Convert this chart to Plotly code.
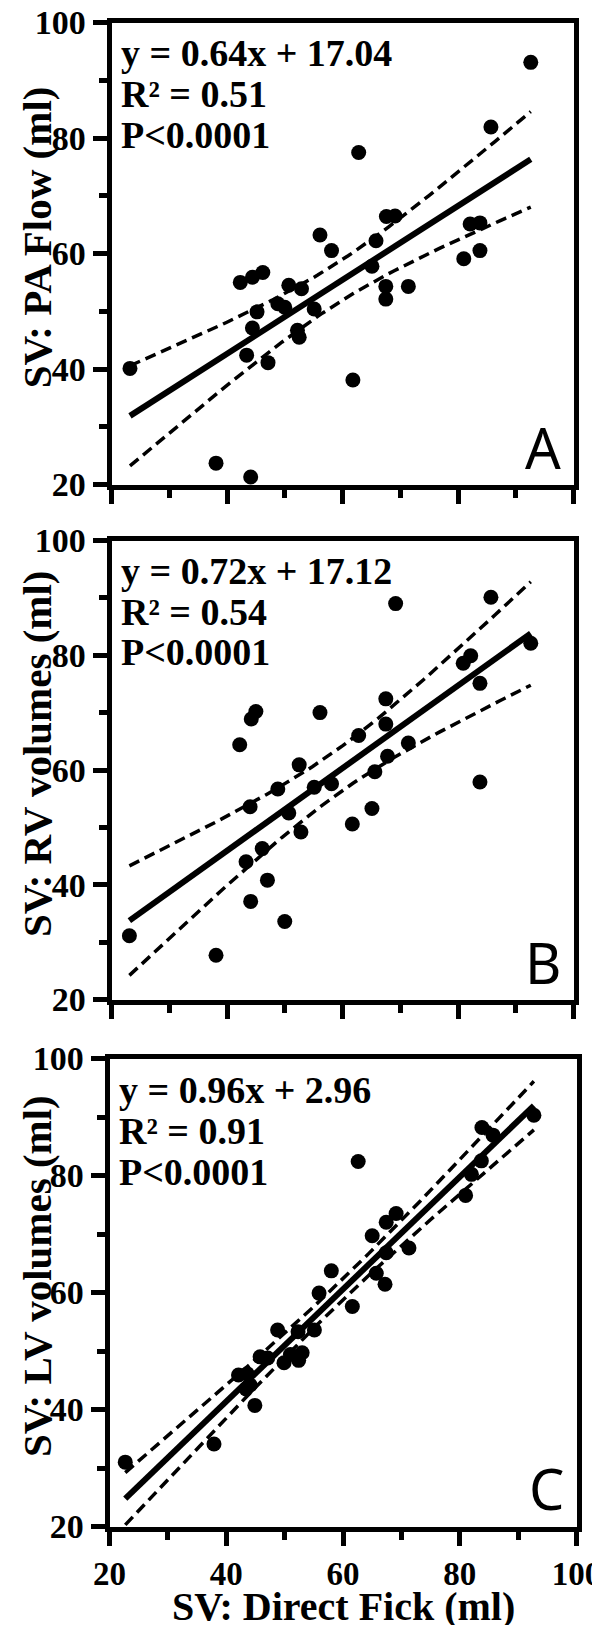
import numpy as np
import plotly.graph_objects as go

# ---------------- data ----------------
# Panel A: SV Direct Fick vs SV PA Flow
fick_a = [23.2, 38.1, 44.1, 42.3, 44.4, 46.2, 45.2, 44.4, 43.4, 47.1, 50.7, 52.9,
          48.8, 50.0, 52.2, 52.5, 55.1, 56.1, 58.1, 62.8, 61.8, 65.8, 65.1, 67.6,
          69.1, 67.5, 67.5, 71.4, 81.0, 82.1, 83.8, 83.8, 85.7, 92.6]
pa_flow = [40.1, 23.7, 21.3, 55.0, 55.9, 56.7, 49.9, 47.1, 42.4, 41.1, 54.5, 53.9,
           51.3, 50.7, 46.7, 45.5, 50.4, 63.2, 60.5, 77.5, 38.1, 62.2, 57.8, 66.4,
           66.5, 54.3, 52.1, 54.3, 59.1, 65.1, 65.3, 60.5, 81.9, 93.1]

# Panel B: SV Direct Fick vs SV RV volumes
fick_b = [23.1, 38.1, 42.2, 44.2, 45.0, 44.0, 43.3, 44.1, 46.1, 47.0, 48.8, 50.0,
          50.7, 52.5, 52.8, 55.1, 56.1, 58.1, 61.7, 62.8, 65.1, 65.6, 67.5, 67.5,
          67.8, 69.2, 71.4, 80.9, 82.2, 83.8, 83.8, 85.7, 92.6]
rv_vol = [31.1, 27.7, 64.4, 68.9, 70.2, 53.6, 44.0, 37.1, 46.3, 40.8, 56.7, 33.6,
          52.5, 60.9, 49.2, 57.0, 70.0, 57.6, 50.6, 66.0, 53.3, 59.7, 72.4, 68.0,
          62.4, 89.0, 64.7, 78.6, 79.9, 75.1, 57.9, 90.1, 82.1]

# Panel C: SV Direct Fick vs SV LV volumes
fick_c = [22.7, 37.9, 42.1, 43.6, 44.1, 43.4, 44.9, 45.8, 47.1, 48.8, 49.9, 51.0,
          52.4, 53.0, 52.3, 55.1, 55.9, 58.0, 61.6, 62.6, 65.0, 65.7, 67.2, 67.4,
          67.4, 69.1, 71.3, 81.0, 82.0, 83.7, 83.8, 85.7, 92.7]
lv_vol = [31.0, 34.1, 45.9, 46.1, 44.2, 43.5, 40.7, 49.0, 48.8, 53.6, 48.0, 49.4,
          48.4, 49.7, 53.3, 53.6, 59.9, 63.7, 57.6, 82.4, 69.7, 63.3, 61.4, 66.8,
          72.0, 73.5, 67.6, 76.6, 80.2, 82.5, 88.2, 86.9, 90.3]

# Reported regressions
slopes = [0.64, 0.72, 0.96]
intercepts = [17.04, 17.12, 2.96]
r2_labels = ["0.51", "0.54", "0.91"]
p_labels = ["P<0.0001", "P<0.0001", "P<0.0001"]
panel_letters = ["A", "B", "C"]
y_titles = ["SV: PA Flow (ml)", "SV: RV volumes (ml)", "SV: LV volumes (ml)"]
x_title = "SV: Direct Fick (ml)"
tick_vals = [20, 40, 60, 80, 100]
T95 = 2.04  # two-sided 95% t quantile, df ~ 31

datasets = [(fick_a, pa_flow), (fick_b, rv_vol), (fick_c, lv_vol)]

# ---------------- layout geometry (pixels) ----------------
W, H = 600, 1625
LW = 5
boxes = [(101, 568, 12, 479), (101, 568, 530, 994), (99, 571, 1048, 1521)]

SERIF = "Liberation Serif"
fig = go.Figure()

def band(x, y, m, b):
    x = np.asarray(x, float); y = np.asarray(y, float)
    n = len(x); xm = x.mean(); sxx = ((x - xm) ** 2).sum()
    s = np.sqrt(((y - (m * x + b)) ** 2).sum() / (n - 2))
    xs = np.linspace(x.min(), x.max(), 80)
    hw = T95 * s * np.sqrt(1.0 / n + (xs - xm) ** 2 / sxx)
    return xs, m * xs + b, hw

annotations = []
for i, ((xv, yv), m, b) in enumerate(zip(datasets, slopes, intercepts)):
    k = "" if i == 0 else str(i + 1)
    xa, ya = "x" + k, "y" + k
    xs, yfit, hw = band(xv, yv, m, b)
    dash = dict(color="black", width=3.5, dash="11px,6px")
    fig.add_trace(go.Scatter(x=xs, y=yfit + hw, mode="lines", line=dash, xaxis=xa, yaxis=ya, showlegend=False))
    fig.add_trace(go.Scatter(x=xs, y=yfit - hw, mode="lines", line=dash, xaxis=xa, yaxis=ya, showlegend=False))
    fig.add_trace(go.Scatter(x=[min(xv), max(xv)], y=[m * min(xv) + b, m * max(xv) + b], mode="lines",
                             line=dict(color="black", width=6), xaxis=xa, yaxis=ya, showlegend=False))
    fig.add_trace(go.Scatter(x=xv, y=yv, mode="markers", marker=dict(color="black", size=15, line=dict(width=0)),
                             xaxis=xa, yaxis=ya, showlegend=False, cliponaxis=False))

    x0, x1, y0, y1 = boxes[i]
    xdom = [(x0 + LW / 2) / W, (x1 - LW / 2) / W]
    ydom = [1 - (y1 - LW / 2) / H, 1 - (y0 + LW / 2) / H]
    axis_common = dict(range=[20, 100], showline=True, linecolor="black", linewidth=LW, mirror=True,
                       ticks="outside", ticklen=14, tickwidth=LW, tickcolor="black",
                       tickvals=tick_vals, showgrid=False, zeroline=False, automargin=False,
                       ticklabeloverflow="allow",
                       minor=dict(dtick=10, tick0=0, ticks="outside", ticklen=8, tickwidth=LW, tickcolor="black"),
                       tickfont=dict(family=SERIF, size=34, color="black", weight="bold"))
    fig.update_layout(**{
        "xaxis" + k: dict(axis_common, domain=xdom, anchor=ya, showticklabels=(i == 2),
                          tickfont=dict(family=SERIF, size=33, color="black", weight="bold")),
        "yaxis" + k: dict(axis_common, domain=ydom, anchor=xa, ticklabelstandoff=0),
    })

    eq = "y = %.2fx + %.2f" % (m, b)
    lines = [eq, "R² = " + r2_labels[i], p_labels[i]]
    for j, txt in enumerate(lines):
        annotations.append(dict(text=txt, xref=xa, yref=ya, x=21.3, y=[94.7, 87.6, 80.6][j],
                                xanchor="left", yanchor="middle", showarrow=False,
                                font=dict(family=SERIF, size=38, color="black", weight="bold")))
    annotations.append(dict(text=panel_letters[i], xref=xa + " domain", yref=ya + " domain", x=0.978, y=0.082,
                            xanchor="right", yanchor="middle", showarrow=False,
                            font=dict(family="Noto Sans", size=56, color="black")))
    annotations.append(dict(text=y_titles[i], xref="paper", yref=ya + " domain", x=29 / W, y=0.535,
                            xanchor="center", yanchor="middle", textangle=-90, showarrow=False,
                            font=dict(family=SERIF, size=41, color="black", weight="bold")))

annotations.append(dict(text=x_title, xref="x3 domain", yref="paper", x=0.5, y=1 - 1598 / H,
                        xanchor="center", yanchor="middle", showarrow=False,
                        font=dict(family=SERIF, size=40, color="black", weight="bold")))

fig.update_layout(width=W, height=H, margin=dict(l=0, r=0, t=0, b=0, autoexpand=False),
                  paper_bgcolor="white", plot_bgcolor="white", annotations=annotations,
                  showlegend=False)
fig.write_html("out.html")
